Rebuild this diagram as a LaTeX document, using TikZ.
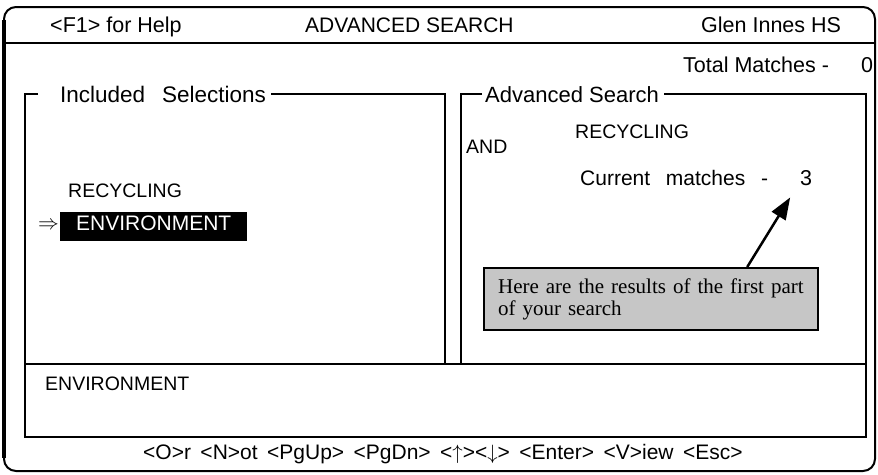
\documentclass[tikz,border=0pt]{standalone}
\usepackage{fontspec}
\setmainfont{Liberation Sans}
\newfontfamily\notefont{Liberation Serif}
\usetikzlibrary{arrows.meta}
\definecolor{ScreenInk}{RGB}{0,0,0}
\definecolor{NoteShade}{RGB}{198,198,198}
\newcommand{\widegap}{\spaceskip=0.75em\relax}
\newcommand{\midgap}{\spaceskip=0.45em\relax}
\tikzstyle{screentext} = [inner sep=0pt, anchor=base west, font=\fontsize{21.5}{24}\selectfont, text=ScreenInk]
\tikzstyle{smalltext} = [screentext, font=\fontsize{19.5}{22}\selectfont]
\tikzstyle{paneltitle} = [screentext, inner xsep=5pt]
\tikzstyle{frameline} = [line width=2pt, ScreenInk]
\tikzstyle{pointer} = [line width=2.5pt, ScreenInk, -{Triangle[length=22pt,width=16pt]}]

\begin{document}
\begin{tikzpicture}[x=1pt,y=-1pt]
            \useasboundingbox (0,0) rectangle (878,474);

            % Outer screen frame and title bar
            \draw[frameline, rounded corners=12pt] (4,7) rectangle (875,471);
            \draw[line width=3.5pt] (4,20) -- (4,458);
            \draw[frameline] (4,43) -- (875,43);
            \node[screentext] (help) at (50,32) {<F1> for Help};
            \node[screentext, font=\fontsize{21}{24}\selectfont] (title) at (305,32) {ADVANCED SEARCH};
            \node[screentext] (school) at (701,32) {Glen Innes HS};

            % Totals
            \node[screentext] (total) at (683,72) {Total Matches -};
            \node[screentext] (totalnum) at (861,72) {0};

            % Panel titles
            \node[paneltitle, font=\fontsize{22.5}{24}\selectfont\widegap] (included) at (55,102) {Included Selections};
            \node[paneltitle, font=\fontsize{22}{24}\selectfont] (advanced) at (480,102) {Advanced Search};

            % Panels
            \draw[frameline] (38,94) -- (25,94) -- (25,364) -- (445,364) -- (445,94) -- (included.east |- 0,94);
            \draw[frameline] (482,94) -- (461,94) -- (461,364) -- (866,364) -- (866,94) -- (advanced.east |- 0,94);
            \draw[frameline] (25,364) rectangle (866,437);

            % Included selections
            \node[smalltext] (recycleleft) at (68,197) {RECYCLING};
            \node[screentext, font=\fontsize{20}{22}\selectfont] (cursor) at (38,229) {$\Rightarrow$};
            \node[screentext, font=\fontsize{21}{24}\selectfont, fill=black, text=white,
                  minimum width=187pt, minimum height=29pt, text depth=7pt] (envsel) at (60,230) {ENVIRONMENT};

            % Advanced search
            \node[smalltext] (recycleright) at (575,138) {RECYCLING};
            \node[smalltext] (andop) at (466,153) {AND};
            \node[screentext, font=\fontsize{21}{24}\selectfont\widegap] (current) at (580,185) {Current matches -};
            \node[screentext] (num) at (800,185) {3};

            % Note and pointer
            \node[draw, line width=2.2pt, fill=NoteShade, anchor=north west, text width=306pt, minimum height=62pt,
                  inner xsep=14pt, align=left, font=\notefont\fontsize{21}{22}\selectfont] (note) at (483,267)
                  {Here are the results of the first part\\of your search};
            \draw[pointer] ([xshift=-72pt]note.north east) -- ([xshift=-16pt,yshift=-12pt]num.south);

            % Bottom strip and keys
            \node[smalltext] (envbottom) at (45,390) {ENVIRONMENT};
            \node[screentext, font=\fontsize{21}{24}\selectfont\midgap] (keys) at (143,459)
                  {<O>r <N>ot <PgUp> <PgDn> <$\uparrow$><$\downarrow$> <Enter> <V>iew <Esc>};
        \end{tikzpicture}
\end{document}
